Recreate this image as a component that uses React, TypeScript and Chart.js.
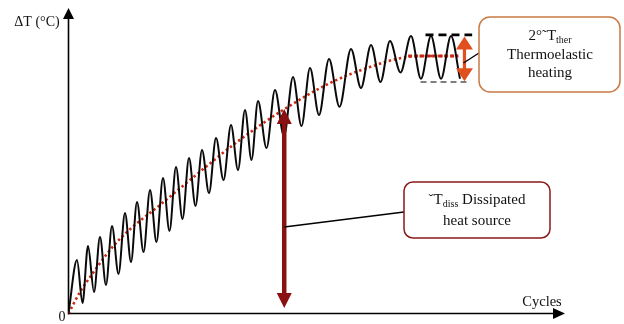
import React, { useEffect, useRef } from "react";
import { Chart, registerables } from "chart.js";

Chart.register(...registerables);

// ---- data (cycles on x, ΔT on y, arbitrary units) ----
const waveCycles = [
  0, 1.71, 2.82, 3.93, 5.14, 6.34, 7.55, 8.76, 10.07, 11.38, 12.59, 13.8, 15.11, 16.42, 17.72,
  19.03, 20.34, 21.65, 22.96, 24.27, 25.58, 26.89, 28.3, 29.71, 31.22, 32.73, 34.14, 35.55,
  36.86, 38.17, 39.88, 41.59, 43.4, 45.22, 46.93, 48.64, 50.45, 52.47, 54.58, 56.9, 58.91,
  60.93, 62.84, 64.75, 66.87, 68.98, 70.99, 73.01, 75.03, 77.04, 78.85,
];
const waveDeltaT = [
  0, 17.5, 3.44, 22.09, 7.04, 25.04, 9.33, 28.64, 12.93, 32.9, 16.86, 36.5, 20.13, 40.43, 23.4,
  44.35, 27.0, 47.95, 30.93, 50.9, 35.19, 53.52, 39.44, 57.45, 43.7, 61.7, 46.97, 66.61, 50.25,
  69.56, 54.17, 73.16, 58.1, 77.41, 61.37, 80.36, 64.98, 83.31, 67.68, 86.58, 73.81, 87.89,
  75.78, 89.2, 78.89, 90.83, 76.82, 90.83, 76.82, 90.83, 76.82,
];
const trendCycles = [0, 2.32, 4.93, 8.36, 11.78, 18.43, 24.47, 33.94, 43.2, 52.67, 60.73, 68.18, 72.81, 78.85];
const trendDeltaT = [0, 7.04, 13.26, 20.79, 26.68, 35.52, 43.7, 56.14, 66.61, 75.45, 80.69, 83.96, 84.29, 84.29];
const plateauCycles = [68.4, 78.5];
const plateauDeltaT = [84.29, 84.29];

// annotation anchors (data units)
const dissCycle = 43.45;
const dissTop = 66.9;
const dissBottom = 1.8;
const therCycle = 79.75;
const therTop = 90.7;
const therBottom = 76.0;
const peakLevel = 91.2;
const troughLevel = 75.8;
const peakLineFrom = 71.9;
const peakLineTo = 81.3;
const troughLineFrom = 70.9;
const troughLineTo = 80.3;

const yAxisTitle = "ΔT (°C)";
const xAxisTitle = "Cycles";
const originLabel = "0";

const SERIF = '"Liberation Serif", "Times New Roman", serif';

function toPoints(xs: number[], ys: number[]) {
  return xs.map((x, i) => ({ x, y: ys[i] }));
}

function head(ctx: CanvasRenderingContext2D, tx: number, ty: number, dir: string, hw: number, len: number) {
  ctx.beginPath();
  if (dir === "up") {
    ctx.moveTo(tx, ty);
    ctx.lineTo(tx - hw, ty + len);
    ctx.lineTo(tx + hw, ty + len);
  } else if (dir === "down") {
    ctx.moveTo(tx, ty);
    ctx.lineTo(tx - hw, ty - len);
    ctx.lineTo(tx + hw, ty - len);
  } else {
    ctx.moveTo(tx, ty);
    ctx.lineTo(tx - len, ty - hw);
    ctx.lineTo(tx - len, ty + hw);
  }
  ctx.closePath();
  ctx.fill();
}

function roundBox(ctx: CanvasRenderingContext2D, x: number, y: number, w: number, h: number, r: number) {
  ctx.beginPath();
  ctx.moveTo(x + r, y);
  ctx.lineTo(x + w - r, y);
  ctx.arcTo(x + w, y, x + w, y + r, r);
  ctx.lineTo(x + w, y + h - r);
  ctx.arcTo(x + w, y + h, x + w - r, y + h, r);
  ctx.lineTo(x + r, y + h);
  ctx.arcTo(x, y + h, x, y + h - r, r);
  ctx.lineTo(x, y + r);
  ctx.arcTo(x, y, x + r, y, r);
  ctx.closePath();
}

type Part = { t: string; sub?: boolean };
function richText(ctx: CanvasRenderingContext2D, parts: Part[], cx: number, cy: number, size: number) {
  const main = `${size}px ${SERIF}`;
  const small = `${Math.round(size * 0.68)}px ${SERIF}`;
  let total = 0;
  const widths = parts.map((p) => {
    ctx.font = p.sub ? small : main;
    const w = ctx.measureText(p.t).width;
    total += w;
    return w;
  });
  let x = cx - total / 2;
  ctx.textAlign = "left";
  ctx.textBaseline = "middle";
  parts.forEach((p, i) => {
    ctx.font = p.sub ? small : main;
    ctx.fillText(p.t, x, p.sub ? cy + 4 : cy);
    x += widths[i];
  });
}

const diagramPlugin = {
  id: "diagram",
  beforeDatasetsDraw(chart: any) {
    const ctx: CanvasRenderingContext2D = chart.ctx;
    const xs = chart.scales.x;
    const ys = chart.scales.y;
    const x0 = xs.getPixelForValue(0);
    const y0 = ys.getPixelForValue(0);
    ctx.save();
    ctx.strokeStyle = "#000";
    ctx.fillStyle = "#000";
    ctx.lineWidth = 1.6;
    ctx.beginPath();
    ctx.moveTo(x0, y0 + 1);
    ctx.lineTo(x0, chart.chartArea.top + 10);
    ctx.moveTo(x0, y0);
    ctx.lineTo(chart.chartArea.right - 11, y0);
    ctx.stroke();
    head(ctx, x0, chart.chartArea.top, "up", 5.5, 11);
    head(ctx, chart.chartArea.right, y0, "right", 5.5, 12);
    ctx.restore();
  },
  afterDatasetsDraw(chart: any) {
    const ctx: CanvasRenderingContext2D = chart.ctx;
    const xs = chart.scales.x;
    const ys = chart.scales.y;
    const px = (v: number) => xs.getPixelForValue(v);
    const py = (v: number) => ys.getPixelForValue(v);
    ctx.save();

    // axis labels
    ctx.fillStyle = "#111";
    ctx.textAlign = "center";
    ctx.textBaseline = "middle";
    ctx.font = `14px ${SERIF}`;
    ctx.fillText(yAxisTitle, 37, 22);
    ctx.fillText(originLabel, 62, 317);
    ctx.font = `14.5px ${SERIF}`;
    ctx.fillText(xAxisTitle, 542, 302);

    // dashed peak / trough level lines
    ctx.strokeStyle = "#000";
    ctx.lineWidth = 2.6;
    ctx.setLineDash([8, 5]);
    ctx.beginPath();
    ctx.moveTo(px(peakLineFrom), py(peakLevel));
    ctx.lineTo(px(peakLineTo), py(peakLevel));
    ctx.stroke();
    ctx.lineWidth = 1.1;
    ctx.setLineDash([6, 4]);
    ctx.beginPath();
    ctx.moveTo(px(troughLineFrom), py(troughLevel));
    ctx.lineTo(px(troughLineTo), py(troughLevel));
    ctx.stroke();
    ctx.setLineDash([]);

    // dissipated heat arrow
    const ax = px(dissCycle);
    const aTop = py(dissTop);
    const aBot = py(dissBottom);
    ctx.strokeStyle = "#8a1111";
    ctx.fillStyle = "#8a1111";
    ctx.lineWidth = 4.5;
    ctx.beginPath();
    ctx.moveTo(ax, aTop + 12);
    ctx.lineTo(ax, aBot - 12);
    ctx.stroke();
    head(ctx, ax, aTop, "up", 7.5, 15);
    head(ctx, ax, aBot, "down", 7.5, 15);

    // thermoelastic arrow
    const ox = px(therCycle);
    const oTop = py(therTop);
    const oBot = py(therBottom);
    ctx.strokeStyle = "#e0501c";
    ctx.fillStyle = "#e0501c";
    ctx.lineWidth = 3.2;
    ctx.beginPath();
    ctx.moveTo(ox, oTop + 10);
    ctx.lineTo(ox, oBot - 10);
    ctx.stroke();
    head(ctx, ox, oTop, "up", 8.5, 13);
    head(ctx, ox, oBot, "down", 8.5, 13);

    // connectors
    ctx.strokeStyle = "#000";
    ctx.lineWidth = 1.4;
    ctx.beginPath();
    ctx.moveTo(ax, 227);
    ctx.lineTo(404, 212);
    ctx.moveTo(ox - 1, 63);
    ctx.lineTo(479, 53);
    ctx.stroke();

    // boxes
    ctx.fillStyle = "#fff";
    ctx.lineWidth = 1.5;
    roundBox(ctx, 404, 182, 146, 56, 9);
    ctx.fill();
    ctx.strokeStyle = "#8a1a1a";
    ctx.stroke();
    roundBox(ctx, 479, 17, 141, 75, 11);
    ctx.fill();
    ctx.strokeStyle = "#c97a45";
    ctx.stroke();

    ctx.fillStyle = "#111";
    richText(ctx, [{ t: "ˇT" }, { t: "diss", sub: true }, { t: " Dissipated" }], 477, 200, 15);
    richText(ctx, [{ t: "heat source" }], 477, 221, 15);
    richText(ctx, [{ t: "2°˜T" }, { t: "ther", sub: true }], 550, 36, 15);
    richText(ctx, [{ t: "Thermoelastic" }], 550, 55, 15);
    richText(ctx, [{ t: "heating" }], 550, 73, 15);

    ctx.restore();
  },
};

export default function App() {
  const ref = useRef<HTMLCanvasElement | null>(null);
  useEffect(() => {
    if (!ref.current) return;
    const chart = new Chart(ref.current, {
      type: "line",
      data: {
        datasets: [
          {
            label: "ΔT",
            data: toPoints(waveCycles, waveDeltaT),
            borderColor: "#0a0a0a",
            borderWidth: 2,
            pointRadius: 0,
            cubicInterpolationMode: "monotone",
            fill: false,
          },
          {
            label: "trend",
            data: toPoints(trendCycles, trendDeltaT),
            borderColor: "#cc2a12",
            borderWidth: 2.6,
            borderDash: [2.4, 2.8],
            pointRadius: 0,
            cubicInterpolationMode: "monotone",
            fill: false,
          },
          {
            label: "plateau",
            data: toPoints(plateauCycles, plateauDeltaT),
            borderColor: "#c02a14",
            borderWidth: 3.2,
            borderDash: [4, 2],
            pointRadius: 0,
            fill: false,
          },
        ],
      },
      options: {
        responsive: false,
        animation: false,
        events: [],
        layout: { padding: { left: 68.5, right: 59, top: 8, bottom: 10.5 } },
        plugins: { legend: { display: false }, tooltip: { enabled: false } },
        scales: {
          x: { type: "linear", min: 0, max: 100, display: false },
          y: { type: "linear", min: 0, max: 100, display: false },
        },
      },
      plugins: [diagramPlugin],
    } as any);
    return () => chart.destroy();
  }, []);
  return (
    <div style={{ position: "fixed", left: 0, top: 0, width: 624, height: 324, background: "#fff" }}>
      <canvas ref={ref} width={624} height={324} style={{ width: 624, height: 324, display: "block" }} />
    </div>
  );
}
